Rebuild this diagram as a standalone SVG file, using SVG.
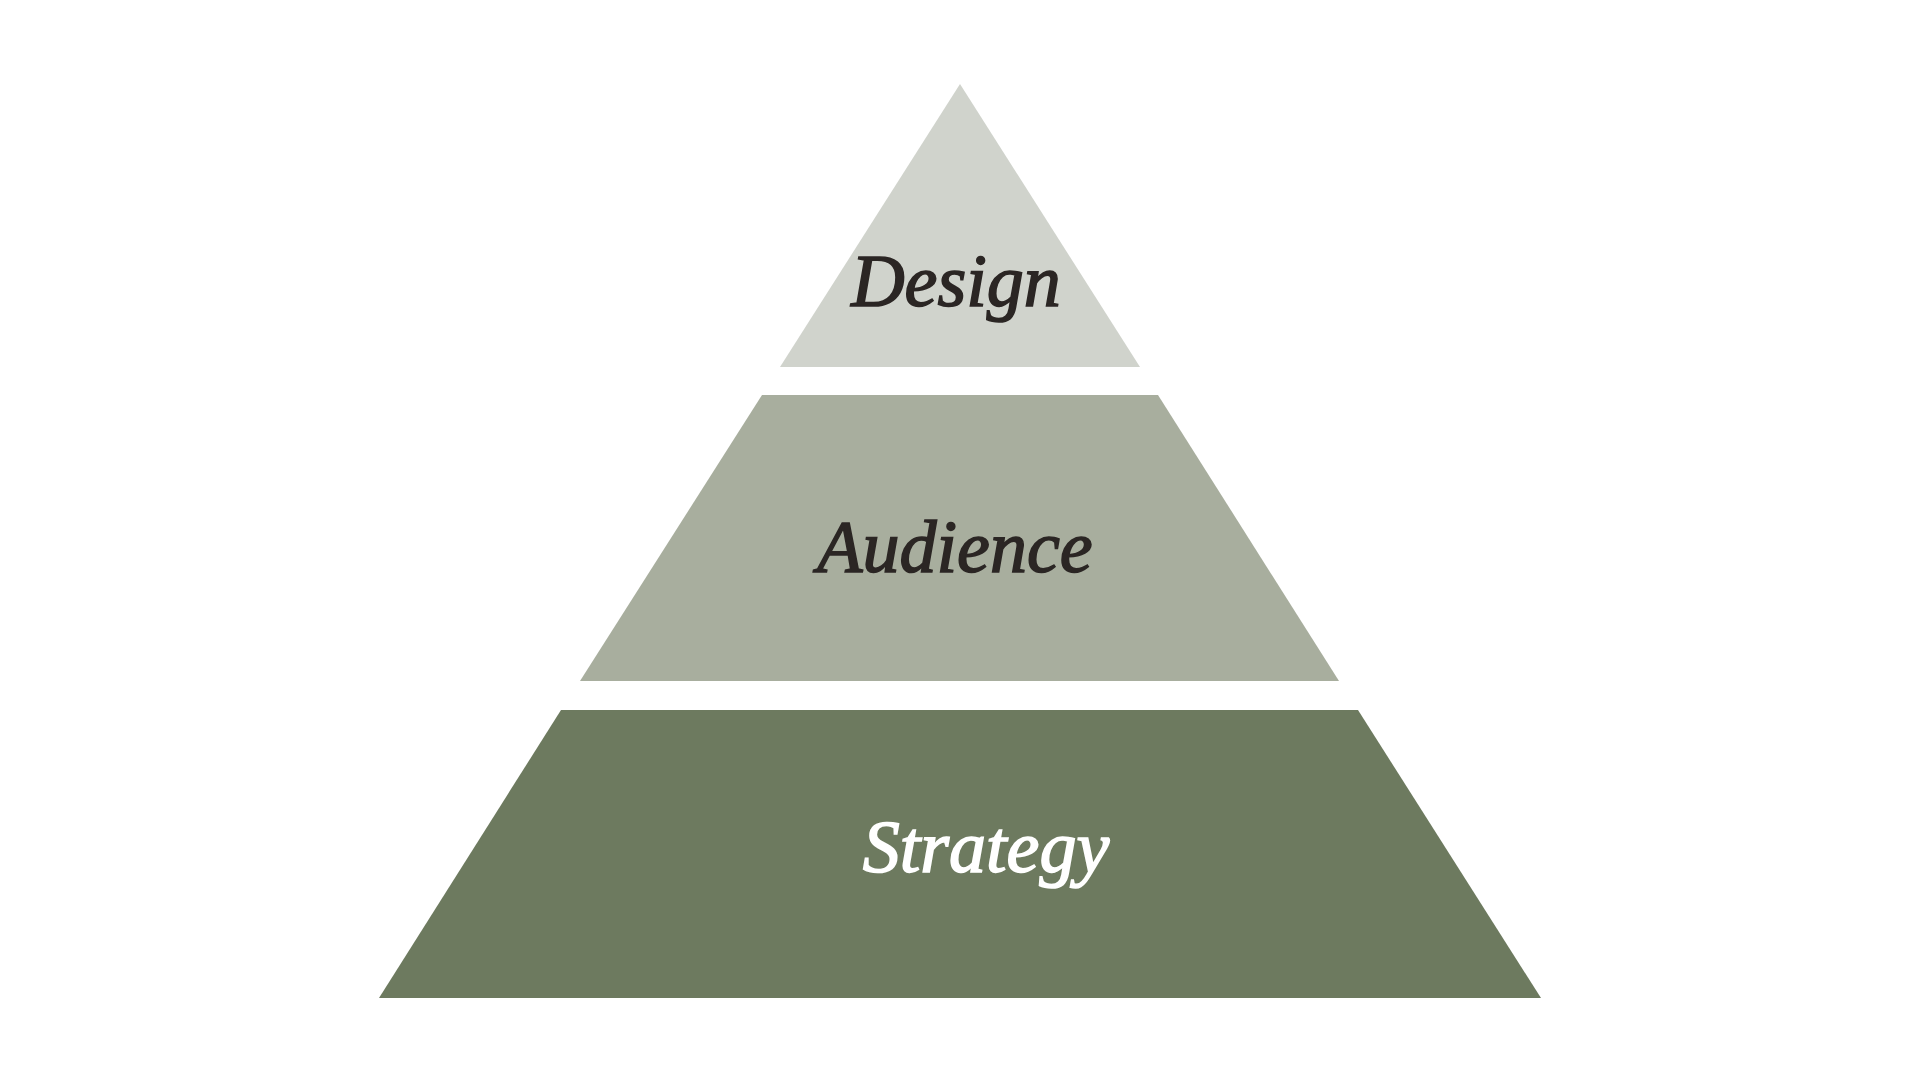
<svg xmlns="http://www.w3.org/2000/svg" width="1920" height="1080" viewBox="0 0 1920 1080">
<style>
.lbl{font-family:'Liberation Serif',serif;font-style:italic;font-size:74px;text-anchor:middle;stroke-width:1.6px}
.dark{fill:#2b2624;stroke:#2b2624}
.light{fill:#ffffff;stroke:#ffffff}
</style>
<rect width="1920" height="1080" fill="#ffffff"/>
<g id="tier-design">
<polygon points="960,84 1140,367 780,367" fill="#d0d3cc"/>
<text class="lbl dark" x="956" y="306" font-family="Liberation Serif" font-style="italic">Design</text>
</g>
<g id="tier-audience">
<polygon points="762,395 1158,395 1339,681 580,681" fill="#a8ae9e"/>
<text class="lbl dark" x="955" y="572" style="font-family:'Times New Roman'">Audience</text>
</g>
<g id="tier-strategy">
<polygon points="561,710 1358,710 1541,998 379,998" fill="#6d7a5f"/>
<text class="lbl light" x="986" y="872">Strategy</text>
</g>
<g id="connectors"/>
</svg>
